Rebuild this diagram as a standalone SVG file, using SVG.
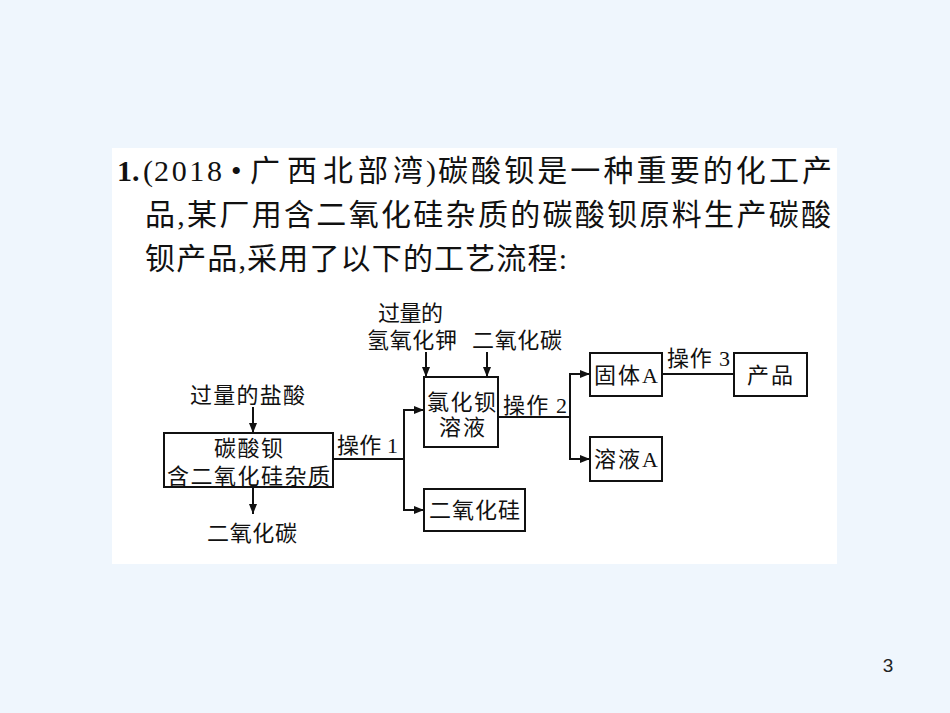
<svg xmlns="http://www.w3.org/2000/svg" width="950" height="713" viewBox="0 0 950 713">
<style>
.t{font-family:"Liberation Serif","Noto Sans CJK SC",serif;fill:#111;}
.q{font-size:30px;}
.d{font-size:22px;}
.box{fill:none;stroke:#111;stroke-width:2;}
.ln{fill:none;stroke:#111;stroke-width:2;}
.ar{fill:none;stroke:#111;stroke-width:2;marker-end:url(#ah);}
</style>
<defs>
<marker id="ah" markerUnits="userSpaceOnUse" markerWidth="10" markerHeight="8" refX="10" refY="4" orient="auto">
<path d="M0,0 L10,4 L0,8 Z" fill="#111"/>
</marker>
</defs>
<rect x="0" y="0" width="950" height="713" fill="#EFF6FD"/>
<rect x="112" y="148" width="725" height="416" fill="#FFFFFF"/>

<g id="question">
<text class="t q" y="181"><tspan x="117" font-weight="bold">1.</tspan><tspan x="143">(</tspan><tspan x="154" textLength="68" lengthAdjust="spacing">2018</tspan><tspan x="231">•</tspan><tspan x="250">广</tspan><tspan x="287">西</tspan><tspan x="323">北</tspan><tspan x="358">部</tspan><tspan x="393">湾</tspan><tspan x="426">)</tspan><tspan x="438" textLength="394" lengthAdjust="spacing">碳酸钡是一种重要的化工产</tspan></text>
<text class="t q" x="145" y="225" textLength="686" lengthAdjust="spacing">品,某厂用含二氧化硅杂质的碳酸钡原料生产碳酸</text>
<text class="t q" x="145" y="269" textLength="422" lengthAdjust="spacing">钡产品,采用了以下的工艺流程:</text>
</g>

<g id="connectors">
<line class="ar" x1="253" y1="407" x2="253" y2="433"/>
<line class="ar" x1="253" y1="487" x2="253" y2="514"/>
<polyline class="ln" points="333,459 404,459"/>
<polyline class="ln" points="404,410 404,510"/>
<line class="ar" x1="403" y1="410" x2="424" y2="410"/>
<line class="ar" x1="403" y1="510" x2="424" y2="510"/>
<line class="ar" x1="426" y1="352" x2="426" y2="377"/>
<line class="ar" x1="487" y1="352" x2="487" y2="377"/>
<polyline class="ln" points="498,417 570,417"/>
<polyline class="ln" points="570,374 570,459"/>
<line class="ar" x1="569" y1="374" x2="590" y2="374"/>
<line class="ar" x1="569" y1="459" x2="590" y2="459"/>
<polyline class="ln" points="662,374 734,374"/>
</g>

<g id="label-hcl"><text class="t d" x="190" y="403" textLength="115" lengthAdjust="spacing">过量的盐酸</text></g>
<g id="node-raw">
<rect class="box" x="164" y="433" width="169" height="54"/>
<text class="t d" x="214" y="456" textLength="69" lengthAdjust="spacing">碳酸钡</text>
<text class="t d" x="167" y="484" textLength="163" lengthAdjust="spacing">含二氧化硅杂质</text>
</g>
<g id="label-co2-out"><text class="t d" x="207" y="541" textLength="90" lengthAdjust="spacing">二氧化碳</text></g>
<g id="label-op1"><text class="t d" x="337" y="453" textLength="61" lengthAdjust="spacing">操作 1</text></g>
<g id="label-koh">
<text class="t d" x="378" y="321" textLength="65" lengthAdjust="spacing">过量的</text>
<text class="t d" x="367" y="348" textLength="90" lengthAdjust="spacing">氢氧化钾</text>
</g>
<g id="label-co2-in"><text class="t d" x="472" y="348" textLength="90" lengthAdjust="spacing">二氧化碳</text></g>
<g id="node-bacl2">
<rect class="box" x="424" y="377" width="74" height="70"/>
<text class="t d" x="427" y="410" textLength="69" lengthAdjust="spacing">氯化钡</text>
<text class="t d" x="439" y="435" textLength="46" lengthAdjust="spacing">溶液</text>
</g>
<g id="node-sio2">
<rect class="box" x="424" y="489" width="101" height="42"/>
<text class="t d" x="429" y="518" textLength="91" lengthAdjust="spacing">二氧化硅</text>
</g>
<g id="label-op2"><text class="t d" x="503" y="413" textLength="64" lengthAdjust="spacing">操作 2</text></g>
<g id="node-solidA">
<rect class="box" x="590" y="353" width="72" height="43"/>
<text class="t d" x="594" y="383" textLength="64" lengthAdjust="spacing">固体A</text>
</g>
<g id="node-solA">
<rect class="box" x="590" y="437" width="72" height="44"/>
<text class="t d" x="594" y="467" textLength="64" lengthAdjust="spacing">溶液A</text>
</g>
<g id="label-op3"><text class="t d" x="667" y="366" textLength="63" lengthAdjust="spacing">操作 3</text></g>
<g id="node-product">
<rect class="box" x="734" y="353" width="73" height="43"/>
<text class="t d" x="747" y="383" textLength="46" lengthAdjust="spacing">产品</text>
</g>

<text x="888" y="672" font-family="Liberation Sans, sans-serif" font-size="19" fill="#222" text-anchor="middle">3</text>
</svg>
